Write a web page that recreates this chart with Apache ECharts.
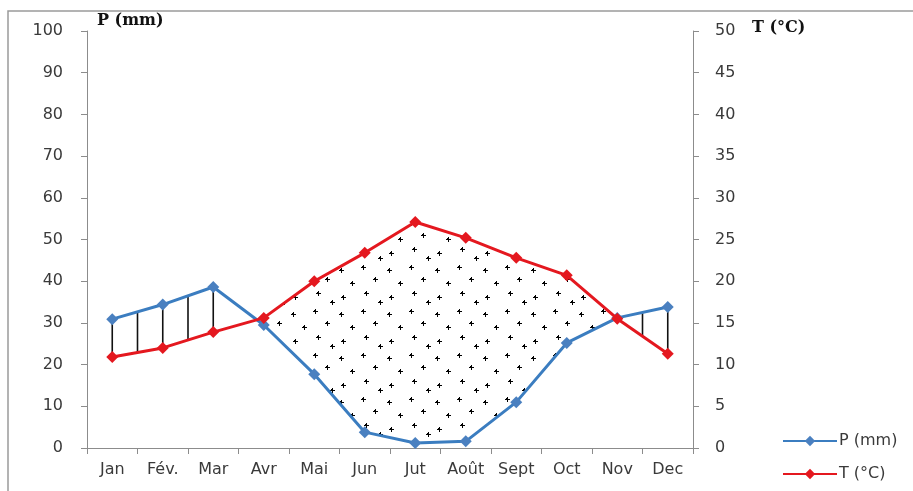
<!DOCTYPE html>
<html>
<head>
<meta charset="utf-8">
<script src="https://cdn.jsdelivr.net/npm/echarts@6/dist/echarts.min.js"></script>
<style>
html,body{margin:0;padding:0;background:#fff;}
#chart{width:913px;height:491px;}
</style>
</head>
<body>
<div id="chart"></div>
<script>
// ---- data ----
const months = ['Jan', 'Fév.', 'Mar', 'Avr', 'Mai', 'Jun', 'Jut', 'Août', 'Sept', 'Oct', 'Nov', 'Dec'];
const precip = [30.9, 34.4, 38.6, 29.5, 17.7, 3.8, 1.2, 1.6, 11.0, 25.2, 31.2, 33.8];
const temp = [10.9, 12.0, 13.9, 15.6, 20.0, 23.4, 27.1, 25.2, 22.8, 20.7, 15.5, 11.3];
const pTicks = [0, 100, 10];
const tTicks = [0, 50, 5];

const FONT = 'DejaVu Sans';
const blue = '#3b7dc0';
const red = '#e4181f';
const ratio = pTicks[1] / tTicks[1]; // converts T to P-axis units (P = 2T rule)

// dotted pattern for dry season
function makePattern() {
  const c = document.createElement('canvas');
  c.width = 48; c.height = 44;
  const g = c.getContext('2d');
  g.fillStyle = '#000';
  const pts = [[5, 6], [27, 3], [16, 19], [39, 15], [7, 33], [30, 29], [44, 38]];
  pts.forEach(([x, y]) => {
    g.fillRect(x - 2, y, 5, 1);
    g.fillRect(x, y - 2, 1, 5);
    g.fillRect(x - 1, y - 1, 2, 2);
  });
  return c;
}
const pattern = makePattern();

function renderGauss(params, api) {
  const n = months.length;
  const tP = temp.map(v => v * ratio);
  const d = precip.map((p, i) => p - tP[i]);
  // pixel position at fractional category index
  function at(x, y) {
    const a = Math.min(Math.floor(x), n - 2);
    const f = x - a;
    const pa = api.coord([a, y]);
    const pb = api.coord([a + 1, y]);
    return [pa[0] + f * (pb[0] - pa[0]), pa[1]];
  }
  const children = [];
  let i = 0;
  while (i < n) {
    if (d[i] < 0) {
      const top = [], bot = [];
      if (i > 0) {
        const t = d[i - 1] / (d[i - 1] - d[i]);
        const y = precip[i - 1] + t * (precip[i] - precip[i - 1]);
        top.push(at(i - 1 + t, y));
      }
      let j = i;
      while (j < n && d[j] < 0) {
        top.push(at(j, tP[j]));
        bot.push(at(j, precip[j]));
        j++;
      }
      if (j < n) {
        const t = d[j - 1] / (d[j - 1] - d[j]);
        const y = precip[j - 1] + t * (precip[j] - precip[j - 1]);
        top.push(at(j - 1 + t, y));
      }
      children.push({
        type: 'polygon',
        shape: { points: top.concat(bot.reverse()) },
        style: { fill: { image: pattern, repeat: 'repeat' }, stroke: null }
      });
      i = j;
    } else i++;
  }
  for (let k = 0; k <= (n - 1) * 2; k++) {
    const x = k / 2;
    const a = Math.floor(x), b = Math.ceil(x);
    if (d[a] <= 0 || d[b] <= 0) continue;
    const f = x - a;
    const p = precip[a] + f * (precip[b] - precip[a]);
    const t = tP[a] + f * (tP[b] - tP[a]);
    if (p - t < 1) continue;
    const p1 = at(x, p), p2 = at(x, t);
    children.push({
      type: 'line',
      shape: { x1: p1[0], y1: p1[1], x2: p2[0], y2: p2[1] },
      style: { stroke: '#111', lineWidth: 1.6 }
    });
  }
  return { type: 'group', children };
}

const chart = echarts.init(document.getElementById('chart'), null, { renderer: 'canvas' });
const axisCommon = {
  axisLine: { show: true, lineStyle: { color: '#8c8c8c', width: 1 } },
  axisTick: { show: true, length: 6, lineStyle: { color: '#8c8c8c' } },
  splitLine: { show: false },
  axisLabel: { fontFamily: FONT, fontSize: 16, color: '#3a3a3a' }
};
const legendCommon = {
  orient: 'horizontal',
  left: 782,
  itemWidth: 54,
  itemHeight: 13,
  padding: 0,
  textStyle: { fontFamily: FONT, fontSize: 16, color: '#3a3a3a', padding: [0, 0, 0, -3] }
};
chart.setOption({
  animation: false,
  backgroundColor: '#fff',
  grid: { left: 87, right: 220, top: 31, bottom: 43 },
  xAxis: {
    type: 'category',
    data: months,
    boundaryGap: true,
    ...axisCommon,
    axisLabel: { ...axisCommon.axisLabel, margin: 14, interval: 0 }
  },
  yAxis: [
    {
      type: 'value', min: pTicks[0], max: pTicks[1], interval: pTicks[2], position: 'left',
      ...axisCommon,
      axisLabel: { ...axisCommon.axisLabel, margin: 24 }
    },
    {
      type: 'value', min: tTicks[0], max: tTicks[1], interval: tTicks[2], position: 'right',
      ...axisCommon,
      axisLabel: { ...axisCommon.axisLabel, margin: 22 }
    }
  ],
  legend: [
    { ...legendCommon, top: 433, data: ['P (mm)'] },
    { ...legendCommon, top: 466, data: ['T (°C)'] }
  ],
  graphic: [
    { type: 'rect', shape: { x: 8, y: 11, width: 1200, height: 1000 }, style: { fill: null, stroke: '#9a9a9a', lineWidth: 1.5 }, silent: true, z: -1 },
    { type: 'text', left: 97, top: 13, style: { text: 'P (mm)', font: 'bold 16px "DejaVu Serif"', fill: '#111' } },
    { type: 'text', left: 752, top: 20, style: { text: 'T (°C)', font: 'bold 16px "DejaVu Serif"', fill: '#111' } }
  ],
  series: [
    {
      type: 'custom',
      name: 'gauss',
      xAxisIndex: 0, yAxisIndex: 0,
      data: [[0, 0]],
      renderItem: renderGauss,
      z: 1,
      silent: true
    },
    {
      name: 'P (mm)', type: 'line', yAxisIndex: 0, data: precip,
      symbol: 'diamond', symbolSize: 12,
      lineStyle: { color: blue, width: 3 },
      itemStyle: { color: '#4a80c0' },
      z: 3
    },
    {
      name: 'T (°C)', type: 'line', yAxisIndex: 1, data: temp,
      symbol: 'diamond', symbolSize: 12,
      lineStyle: { color: red, width: 3 },
      itemStyle: { color: red },
      z: 4
    }
  ]
});
</script>
</body>
</html>
